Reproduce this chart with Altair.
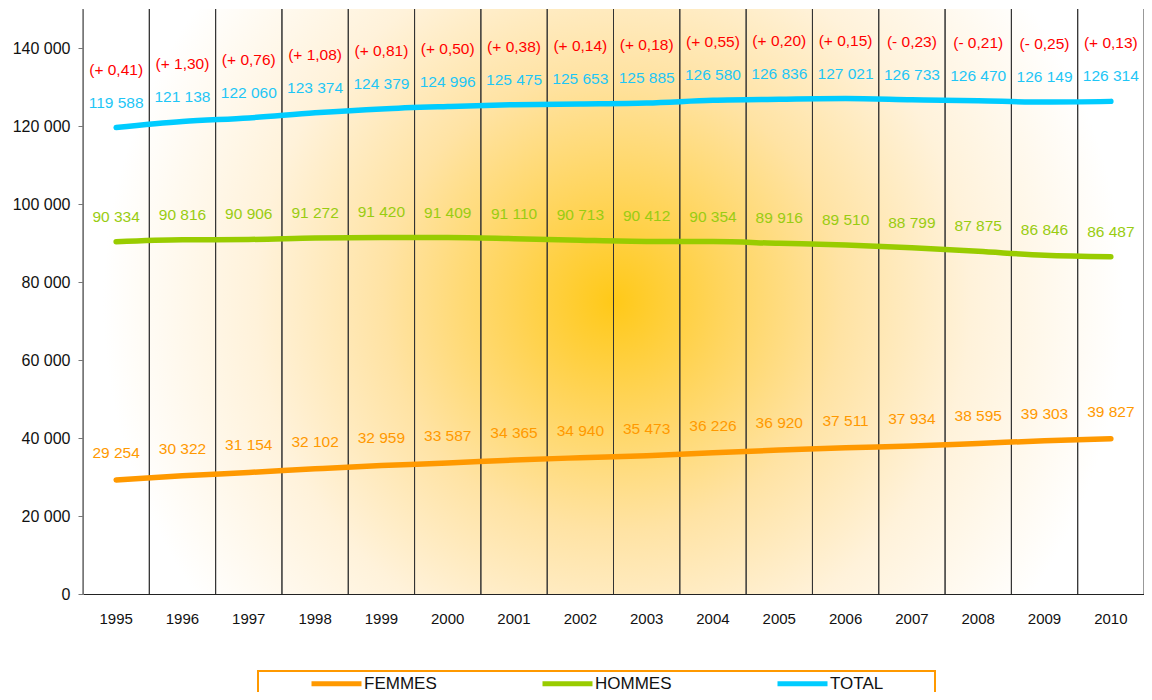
import altair as alt
import pandas as pd

years = list(range(1995, 2011))
femmes = [29254, 30322, 31154, 32102, 32959, 33587, 34365, 34940, 35473, 36226, 36920, 37511, 37934, 38595, 39303, 39827]
hommes = [90334, 90816, 90906, 91272, 91420, 91409, 91110, 90713, 90412, 90354, 89916, 89510, 88799, 87875, 86846, 86487]
total = [119588, 121138, 122060, 123374, 124379, 124996, 125475, 125653, 125885, 126580, 126836, 127021, 126733, 126470, 126149, 126314]
variation = [0.41, 1.30, 0.76, 1.08, 0.81, 0.50, 0.38, 0.14, 0.18, 0.55, 0.20, 0.15, -0.23, -0.21, -0.25, 0.13]
series_names = ["FEMMES", "HOMMES", "TOTAL"]
series_colors = ["#FF9900", "#99CC00", "#00CCFF"]
label_colors = ["#FF9900", "#99CC11", "#1EC6F6"]

W, H = 1061, 585
HALF_BAND = W / len(years) / 2
FONT = "Liberation Sans, Arial, sans-serif"


def fmt_num(v):
    return f"{v:,}".replace(",", " ")


def fmt_var(v):
    sign = "+" if v >= 0 else "-"
    return f"({sign} {abs(v):.2f})".replace(".", ",")


rows = []
for name, vals in zip(series_names, [femmes, hommes, total]):
    for y, v in zip(years, vals):
        rows.append({"year": y, "series": name, "value": v, "label": fmt_num(v)})
df = pd.DataFrame(rows)
df_var = pd.DataFrame({"year": years, "value": total, "label": [fmt_var(v) for v in variation]})
df_years = pd.DataFrame({"year": years})

x_scale = alt.Scale(type="band", paddingInner=0, paddingOuter=0)
x_axis = alt.Axis(
    title=None, grid=False, ticks=False, domainColor="#222222", labelAngle=0,
    labelFontSize=15, labelFont=FONT, labelColor="#111111", labelPadding=17, zindex=1,
)
x_enc = alt.X("year:O", scale=x_scale, axis=x_axis)
y_enc = alt.Y(
    "value:Q",
    scale=alt.Scale(domain=[0, 150000], nice=False),
    axis=alt.Axis(
        title=None, grid=False, values=list(range(0, 150000, 20000)),
        labelExpr="replace(format(datum.value, ','), ',', ' ')",
        labelFontSize=16, labelFont=FONT, labelColor="#111111",
        tickSize=5, tickColor="#777777", domainColor="#777777", labelPadding=8, zindex=1,
    ),
)

glow = alt.RadialGradient(
    gradient="radial",
    stops=[
        alt.GradientStop(offset=0, color="#FFC918"),
        alt.GradientStop(offset=0.2, color="#FFD458"),
        alt.GradientStop(offset=0.45, color="#FFE3A4"),
        alt.GradientStop(offset=0.7, color="#FFF2DA"),
        alt.GradientStop(offset=1, color="#FFFFFF"),
    ],
    x1=0.5, y1=0.5, r1=0, x2=0.5, y2=0.5, r2=0.5,
)

bg = alt.Chart(alt.Data(values=[{"a": 1}])).mark_rect(color=glow).encode(
    x=alt.value(20), x2=alt.value(W - 20), y=alt.value(0), y2=alt.value(H)
)

grid_left = alt.Chart(df_years).mark_rule(color="#333333", strokeWidth=1, xOffset=-HALF_BAND).encode(
    x=alt.X("year:O", scale=x_scale, axis=x_axis), y=alt.value(0), y2=alt.value(H)
)
grid_right = alt.Chart(df_years).mark_rule(color="#333333", strokeWidth=1, xOffset=HALF_BAND).encode(
    x=alt.X("year:O", scale=x_scale, axis=x_axis), y=alt.value(0), y2=alt.value(H)
)

frame = alt.Chart(alt.Data(values=[{"a": 1}])).mark_rect(
    fill="white", stroke="#FF9900", strokeWidth=2
).encode(x=alt.value(175), x2=alt.value(852), y=alt.value(662), y2=alt.value(720))

lines = alt.Chart(df).mark_line(strokeWidth=5.5, strokeCap="round", interpolate="monotone").encode(
    x=x_enc,
    y=y_enc,
    color=alt.Color(
        "series:N",
        scale=alt.Scale(domain=series_names, range=series_colors),
        legend=alt.Legend(
            title=None, orient="none", legendX=226, legendY=647, direction="horizontal",
            symbolType="stroke", symbolSize=2500, symbolStrokeWidth=5,
            labelFontSize=17, labelFont=FONT, labelColor="#111111", labelOffset=0,
            columnPadding=95, padding=0,
        ),
    ),
)

texts = []
for name, col, dy in zip(series_names, label_colors, [-27, -25, -25]):
    texts.append(
        alt.Chart(df[df.series == name]).mark_text(
            fontSize=15.5, font=FONT, color=col, dy=dy, baseline="middle"
        ).encode(x=alt.X("year:O"), y=alt.Y("value:Q"), text="label:N")
    )

var_text = alt.Chart(df_var).mark_text(
    fontSize=15.5, font=FONT, color="#FF0000", dy=-58, baseline="middle"
).encode(x=alt.X("year:O"), y=alt.Y("value:Q"), text="label:N")

chart = alt.layer(bg, grid_left, grid_right, frame, lines, *texts, var_text).properties(
    width=W, height=H,
    autosize=alt.AutoSizeParams(type="none"),
    padding={"left": 75, "top": 1, "right": 0, "bottom": 98},
).configure_view(stroke=None)

chart.save("out.html", embed_options={"renderer": "svg", "actions": False})
